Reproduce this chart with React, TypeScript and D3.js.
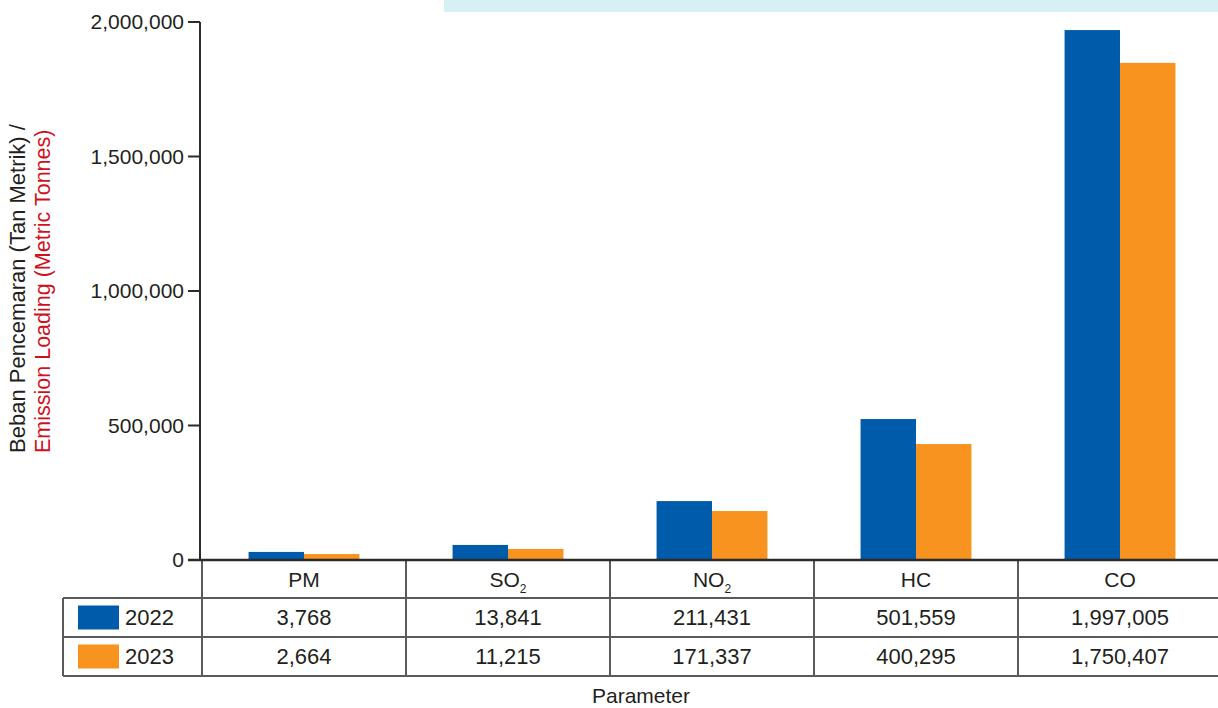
import React from "react";
import * as d3 from "d3";

const categories = ["PM", "SO2", "NO2", "HC", "CO"];
const years = ["2022", "2023"];
// values printed in the data table
const table2022 = [3768, 13841, 211431, 501559, 1997005];
const table2023 = [2664, 11215, 171337, 400295, 1750407];
// bar heights as drawn in the picture
const bars2022 = [30000, 56000, 219000, 524000, 1970000];
const bars2023 = [22000, 41000, 182000, 431000, 1848000];
const yTicks = [0, 500000, 1000000, 1500000, 2000000];
const colors = ["#005baa", "#f7931e"];

const W = 1218;
const H = 708;
const FONT = "'Liberation Sans', Arial, Helvetica, sans-serif";

function CatLabel({ name, x, y }: { name: string; x: number; y: number }) {
  const m = name.match(/^([A-Z]+)(\d)$/);
  if (m) {
    return (
      <text x={x} y={y} textAnchor="middle" fontSize={21} fill="#231f20" fontFamily={FONT}>
        {m[1]}
        <tspan fontSize={12} dy={6}>{m[2]}</tspan>
      </text>
    );
  }
  return (
    <text x={x} y={y} textAnchor="middle" fontSize={21} fill="#231f20" fontFamily={FONT}>
      {name}
    </text>
  );
}

export default function App() {
  const y = d3.scaleLinear().domain([0, 2000000]).range([560, 22]);
  const x0 = d3.scaleBand<string>().domain(categories).range([202, 1222]).padding(0);
  const x1 = d3
    .scaleBand<string>()
    .domain(years)
    .range([0, x0.bandwidth()])
    .paddingInner(0)
    .paddingOuter(0.84);
  const fmt = d3.format(",");
  const series = [bars2022, bars2023];
  const tables = [table2022, table2023];

  const headerTop = 560;
  const headerBottom = 598;
  const rowH = 39;
  const tableLeft = 63;
  const gridColor = "#5a5a5a";

  return (
    <svg
      width={W}
      height={H}
      style={{ position: "absolute", left: 0, top: 0, background: "#fff" }}
    >
      <rect x={444} y={0} width={W - 444} height={12} fill="#d5f1f4" />

      {/* bars */}
      {categories.map((c, i) =>
        years.map((yr, j) => {
          const v = series[j][i];
          return (
            <rect
              key={c + yr}
              x={(x0(c) as number) + (x1(yr) as number)}
              y={y(v)}
              width={x1.bandwidth()}
              height={y(0) - y(v)}
              fill={colors[j]}
            />
          );
        })
      )}

      {/* y axis */}
      <line x1={200} x2={200} y1={y(2000000)} y2={y(0)} stroke="#2b2b2b" strokeWidth={2} />
      {yTicks.map((t) => (
        <g key={t}>
          <line x1={188} x2={200} y1={y(t)} y2={y(t)} stroke="#2b2b2b" strokeWidth={2} />
          <text
            x={184}
            y={y(t)}
            dy="0.35em"
            textAnchor="end"
            fontSize={21}
            fill="#231f20"
            fontFamily={FONT}
          >
            {fmt(t)}
          </text>
        </g>
      ))}

      {/* y title */}
      <g transform="translate(0,453) rotate(-90)">
        <text x={0} y={25} fontSize={22} fill="#231f20" fontFamily={FONT}>
          Beban Pencemaran (Tan Metrik) /
        </text>
        <text x={0} y={50} fontSize={21.5} fill="#d0111b" fontFamily={FONT}>
          Emission Loading (Metric Tonnes)
        </text>
      </g>

      {/* table grid */}
      {[headerBottom, headerBottom + rowH, headerBottom + 2 * rowH].map((ly, k) => (
        <line key={k} x1={tableLeft} x2={W} y1={ly} y2={ly} stroke={gridColor} strokeWidth={2} />
      ))}
      <line
        x1={tableLeft}
        x2={tableLeft}
        y1={headerBottom}
        y2={headerBottom + 2 * rowH}
        stroke={gridColor}
        strokeWidth={2}
      />
      {categories.map((c) => (
        <line
          key={"v" + c}
          x1={x0(c) as number}
          x2={x0(c) as number}
          y1={headerTop}
          y2={headerBottom + 2 * rowH}
          stroke={gridColor}
          strokeWidth={2}
        />
      ))}
      {/* baseline */}
      <line x1={188} x2={W} y1={y(0)} y2={y(0)} stroke="#2b2b2b" strokeWidth={2.5} />

      {/* header labels */}
      {categories.map((c) => (
        <CatLabel key={"h" + c} name={c} x={(x0(c) as number) + x0.bandwidth() / 2} y={587} />
      ))}

      {/* rows */}
      {years.map((yr, j) => {
        const cy = headerBottom + rowH * j + rowH / 2;
        return (
          <g key={"r" + yr}>
            <rect x={78} y={cy - 12} width={41} height={24} fill={colors[j]} />
            <text x={125} y={cy} dy="0.36em" fontSize={22} fill="#231f20" fontFamily={FONT}>
              {yr}
            </text>
            {categories.map((c, i) => (
              <text
                key={c}
                x={(x0(c) as number) + x0.bandwidth() / 2}
                y={cy}
                dy="0.36em"
                textAnchor="middle"
                fontSize={22}
                fill="#231f20"
                fontFamily={FONT}
              >
                {fmt(tables[j][i])}
              </text>
            ))}
          </g>
        );
      })}

      {/* x title */}
      <text x={641} y={703} textAnchor="middle" fontSize={21} fill="#231f20" fontFamily={FONT}>
        Parameter
      </text>
    </svg>
  );
}
